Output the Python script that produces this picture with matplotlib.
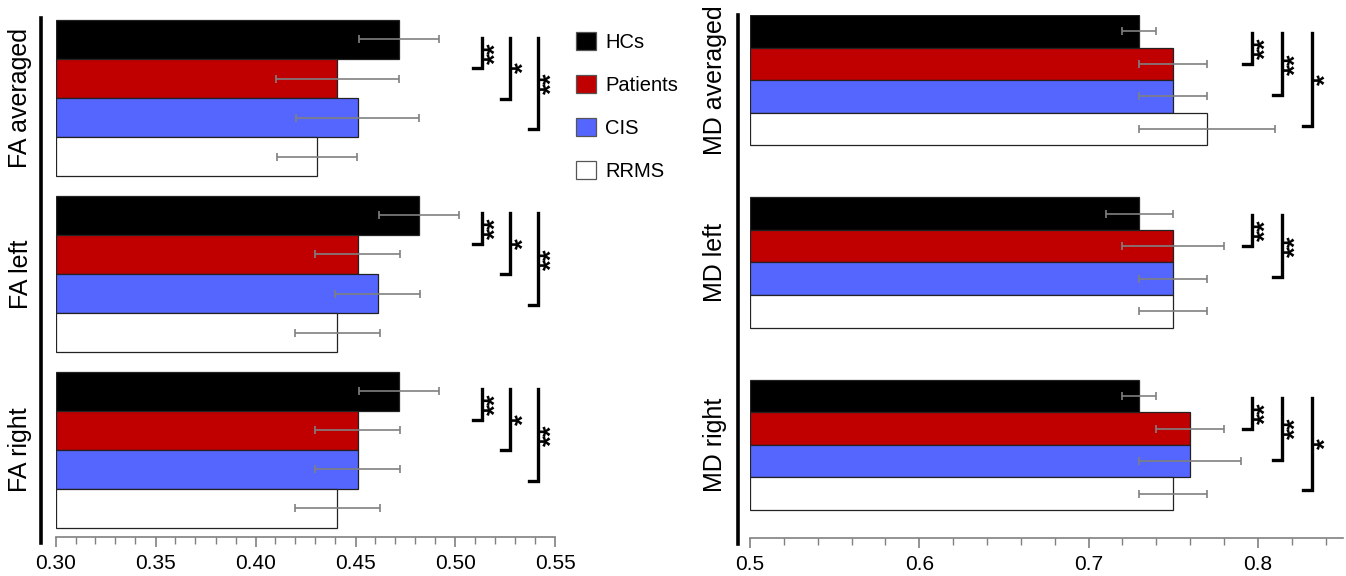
"""
FA / MD group comparison: HCs vs Patients vs CIS vs RRMS, horizontal bars.
"""
import numpy as np
import matplotlib.pyplot as plt
import matplotlib as mpl
from matplotlib.patches import Patch
from matplotlib.lines import Line2D
from matplotlib.transforms import blended_transform_factory

mpl.rcParams.update({
    "font.family": ["Liberation Sans", "DejaVu Sans"],
})

GROUPS = ["HCs", "Patients", "CIS", "RRMS"]
COLORS = ["#000000", "#c00000", "#5566ff", "#ffffff"]

FA_REGIONS = ["FA averaged", "FA left", "FA right"]
FA_MEAN = [
    [0.472, 0.441, 0.451, 0.431],
    [0.482, 0.451, 0.461, 0.441],
    [0.472, 0.451, 0.451, 0.441],
]
FA_ERR = [
    [0.02, 0.031, 0.031, 0.02],
    [0.02, 0.021, 0.021, 0.021],
    [0.02, 0.021, 0.021, 0.021],
]
FA_STARS = [["**", "*", "**"], ["**", "*", "**"], ["**", "*", "**"]]

MD_REGIONS = ["MD averaged", "MD left", "MD right"]
MD_MEAN = [
    [0.73, 0.75, 0.75, 0.77],
    [0.73, 0.75, 0.75, 0.75],
    [0.73, 0.76, 0.76, 0.75],
]
MD_ERR = [
    [0.01, 0.02, 0.02, 0.04],
    [0.02, 0.03, 0.02, 0.02],
    [0.01, 0.02, 0.03, 0.02],
]
MD_STARS = [["**", "**", "*"], ["**", "**"], ["**", "**", "*"]]

W, H = 1346, 576


def px_rect(x0, y_top, x1, y_bot):
    return [x0 / W, 1 - y_bot / H, (x1 - x0) / W, (y_bot - y_top) / H]


def draw_panel(ax, regions, means, errs, stars, step, ylim, xlim,
               major, minor, fmt, br_x, br_dx, br_top, br_step, foot,
               vline_x, label_x):
    trans = blended_transform_factory(ax.transAxes, ax.transData)
    for g, region in enumerate(regions):
        base = g * step
        ys = base + np.arange(len(GROUPS))
        ax.barh(ys, np.array(means[g]) - xlim[0], left=xlim[0], height=1.0,
                color=COLORS, edgecolor="#222222", linewidth=0.9, zorder=2)
        ax.errorbar(means[g], ys, xerr=errs[g], fmt="none", ecolor="#808080",
                    elinewidth=1.2, capsize=3, capthick=1.2, zorder=3)
        ax.text(label_x, base + 1.5, region, transform=trans, rotation=90,
                ha="center", va="center", fontsize=18)
        # significance brackets
        for k, s in enumerate(stars[g]):
            x = br_x + k * br_dx
            top = base + br_top
            bot = top + br_step * (k + 1)
            ax.plot([x - foot, x, x], [bot, bot, top], color="black",
                    lw=2.4, solid_joinstyle="miter", clip_on=False, zorder=4)
            ax.text(x + foot * 0.15, (top + bot) / 2, s, rotation=90,
                    ha="left", va="center", fontsize=20, fontweight="bold",
                    clip_on=False)

    ax.set_xlim(*xlim)
    ax.set_ylim(*ylim)
    ax.xaxis.set_major_locator(mpl.ticker.MultipleLocator(major))
    ax.xaxis.set_minor_locator(mpl.ticker.MultipleLocator(minor))
    ax.xaxis.set_major_formatter(mpl.ticker.FormatStrFormatter(fmt))
    ax.set_yticks([])
    for side in ("top", "right", "left"):
        ax.spines[side].set_visible(False)
    ax.spines["bottom"].set_color("#808080")
    ax.spines["bottom"].set_linewidth(1.2)
    ax.tick_params(axis="x", which="major", length=7, width=1.2,
                   color="#808080", labelsize=15, pad=5)
    ax.tick_params(axis="x", which="minor", length=5, width=1.0,
                   color="#808080")
    ax.add_line(Line2D([vline_x, vline_x], [-0.012, 1.0], transform=ax.transAxes,
                       color="black", lw=2.6, clip_on=False))


def main():
    fig = plt.figure(figsize=(W / 100, H / 100), dpi=100)

    ax_fa = fig.add_axes(px_rect(55.5, 18, 555.5, 537))
    draw_panel(ax_fa, FA_REGIONS, FA_MEAN, FA_ERR, FA_STARS, step=4.5,
               ylim=(12.73, -0.55), xlim=(0.30, 0.55), major=0.05, minor=0.01,
               fmt="%.2f", br_x=0.5135, br_dx=0.0139, br_top=-0.05,
               br_step=0.78, foot=0.0045, vline_x=-0.029, label_x=-0.07)

    ax_md = fig.add_axes(px_rect(750, 15, 1342.5, 538))
    draw_panel(ax_md, MD_REGIONS, MD_MEAN, MD_ERR, MD_STARS, step=5.6,
               ylim=(15.56, -0.5), xlim=(0.5, 0.85), major=0.1, minor=0.02,
               fmt="%.1f", br_x=0.7965, br_dx=0.0177, br_top=0.05,
               br_step=0.95, foot=0.0053, vline_x=-0.02, label_x=-0.059)

    handles = [Patch(facecolor=c, edgecolor="#555555", linewidth=0.9)
               for c in COLORS]
    fig.legend(handles, GROUPS, loc="upper left",
               bbox_to_anchor=(568 / W, 1 - 24 / H), frameon=False,
               fontsize=14.5, handlelength=1.0, handleheight=1.0,
               labelspacing=1.15, handletextpad=0.45, borderaxespad=0)

    fig.savefig("out.png", dpi=100)


if __name__ == "__main__":
    main()
